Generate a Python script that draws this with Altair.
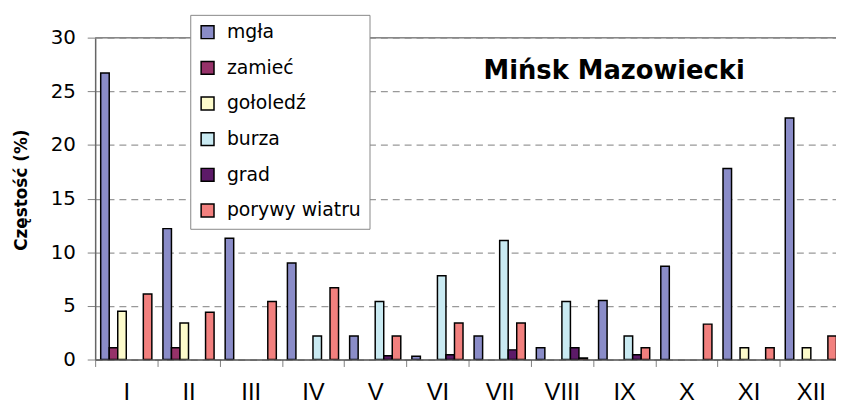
import altair as alt
import pandas as pd

months = ["I", "II", "III", "IV", "V", "VI", "VII", "VIII", "IX", "X", "XI", "XII"]
series = ["mgła", "zamieć", "gołoledź", "burza", "grad", "porywy wiatru"]
colors = ["#8A8CC8", "#963269", "#FDFBCB", "#C9EAF2", "#5C1A68", "#F2807E"]

mgla = [26.7, 12.2, 11.3, 9.0, 2.2, 0.3, 2.2, 1.1, 5.5, 8.7, 17.8, 22.5]
zamiec = [1.1, 1.1, 0, 0, 0, 0, 0, 0, 0, 0, 0, 0]
gololedz = [4.5, 3.4, 0, 0, 0, 0, 0, 0, 0, 0, 1.1, 1.1]
burza = [0, 0, 0, 2.2, 5.4, 7.8, 11.1, 5.4, 2.2, 0, 0, 0]
grad = [0, 0, 0, 0, 0.35, 0.45, 0.9, 1.1, 0.45, 0, 0, 0]
porywy = [6.1, 4.4, 5.4, 6.7, 2.2, 3.4, 3.4, 0.15, 1.1, 3.3, 1.1, 2.2]

y_title = "Częstość (%)"
chart_title = "Mińsk Mazowiecki"

values = [mgla, zamiec, gololedz, burza, grad, porywy]
rows = []
for s, vals in zip(series, values):
    for m, v in zip(months, vals):
        rows.append({"miesiac": m, "zjawisko": s, "value": v})
df = pd.DataFrame(rows)

FONT = "DejaVu Sans"
NARROW = "Liberation Sans Narrow, Arial Narrow, Liberation Sans"

bars = alt.Chart(df).transform_filter(
    alt.datum.value > 0
).mark_bar(stroke="black", strokeWidth=1.5, clip=True).encode(
    x=alt.X("miesiac:N", sort=months,
            scale=alt.Scale(domain=months, range=[0, 754], paddingInner=0, paddingOuter=0),
            axis=alt.Axis(title=None, labelAngle=0, labelFontSize=24, labelFont=NARROW,
                          labelColor="black", labelPadding=14, tickBand="extent",
                          tickSize=7, tickColor="#808080", domainColor="#555555",
                          domainWidth=1.5, grid=False)),
    xOffset=alt.XOffset("zjawisko:N", sort=series,
                        scale=alt.Scale(domain=series, paddingInner=0, paddingOuter=0.65)),
    y=alt.Y("value:Q",
            scale=alt.Scale(domain=[0, 30], nice=False),
            axis=alt.Axis(title=None, values=[0, 5, 10, 15, 20, 25, 30],
                          labelFontSize=20, labelFont=FONT, labelColor="black",
                          labelPadding=12, tickSize=8, tickColor="#808080",
                          domainColor="#666666", domainWidth=1.5,
                          grid=True, gridColor="#999999", gridDash=[7, 5], gridWidth=1.3)),
    fill=alt.Fill("zjawisko:N", sort=series,
                  scale=alt.Scale(domain=series, range=colors),
                  legend=alt.Legend(title=None, orient="none", legendX=96, legendY=-23,
                                    labelFontSize=19, labelFont=FONT, labelColor="black",
                                    symbolType="square", symbolSize=169,
                                    symbolStrokeColor="black", symbolStrokeWidth=1.5,
                                    rowPadding=16, labelOffset=10, padding=8,
                                    strokeColor="#888888", fillColor="white")),
)

top_line = alt.Chart(pd.DataFrame({"y": [30]})).mark_rule(
    color="#888888", strokeWidth=1.5
).encode(y="y:Q")

title = alt.Chart(pd.DataFrame({"t": [chart_title]})).mark_text(
    font=FONT, fontSize=26, fontWeight="bold", color="black",
    align="center", baseline="alphabetic"
).encode(text="t:N", x=alt.value(524), y=alt.value(42))

ytitle = alt.Chart(pd.DataFrame({"t": [y_title]})).mark_text(
    font=FONT, fontSize=17, fontWeight="bold", color="black",
    align="center", baseline="middle", angle=270
).encode(text="t:N", x=alt.value(-74), y=alt.value(154))

chart = alt.layer(top_line, bars, title, ytitle).properties(
    width=748, height=325,
    autosize=alt.AutoSizeParams(type="none"),
    padding={"left": 88, "top": 28, "right": 0, "bottom": 46},
).configure_view(stroke=None).configure(background="white")

chart.save("out.html", embed_options={"renderer": "svg", "actions": False})
